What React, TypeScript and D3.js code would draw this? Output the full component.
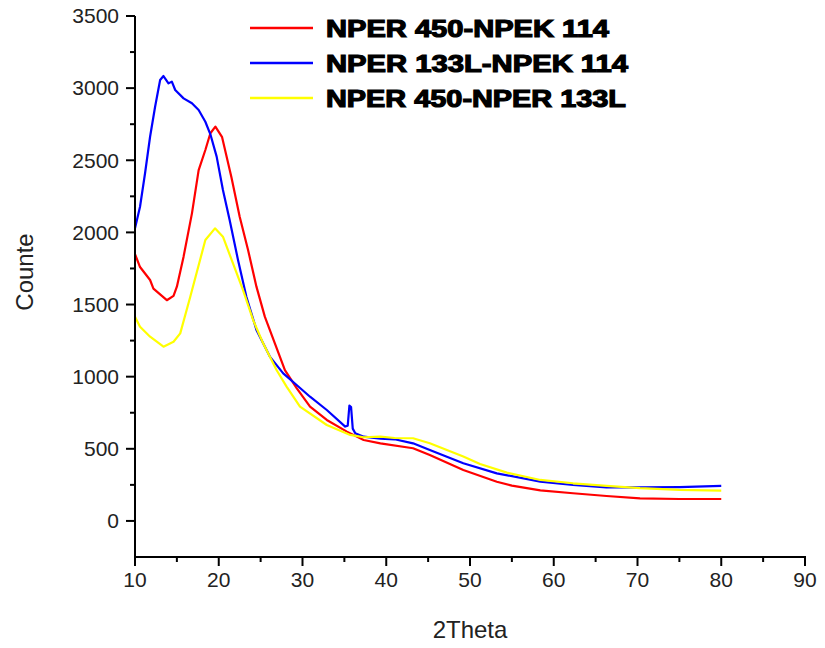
import React from "react";
import * as d3 from "d3";

const redTheta = [10, 10.6, 11.8, 12.2, 13.8, 14.6, 15.0, 15.8, 16.8, 17.6, 18.4, 19.0, 19.6, 20.4, 21.5, 22.5, 23.5, 24.5, 25.5, 26.7, 27.9, 29.3, 30.9, 32.9, 35.3, 37.3, 39.3, 43.2, 45.2, 49.2, 53.2, 55.0, 58.4, 62.3, 66.3, 70.3, 75.0, 80.0];
const redCounts = [1850, 1760, 1670, 1610, 1530, 1560, 1624, 1832, 2132, 2432, 2571, 2687, 2733, 2660, 2386, 2109, 1878, 1624, 1416, 1231, 1046, 920, 792, 700, 619, 561, 538, 504, 457, 353, 272, 245, 212, 192, 173, 157, 152, 152];

const blueTheta = [10, 10.6, 11.2, 11.8, 12.4, 13.0, 13.4, 14.0, 14.4, 14.8, 15.8, 16.8, 17.6, 18.4, 19.0, 19.75, 20.5, 21.3, 22.3, 23.3, 24.5, 26.1, 27.7, 29.3, 30.9, 32.9, 35.1, 35.4, 35.6, 35.8, 36.0, 36.3, 37.3, 39.3, 41.0, 43.2, 45.2, 49.2, 53.2, 58.4, 62.3, 66.3, 70.3, 75.0, 80.0];
const blueCounts = [2028, 2178, 2410, 2663, 2871, 3056, 3084, 3033, 3045, 2987, 2929, 2895, 2848, 2767, 2680, 2525, 2294, 2086, 1809, 1554, 1324, 1139, 1023, 942, 861, 769, 654, 660, 800, 790, 640, 608, 584, 570, 566, 538, 492, 400, 330, 272, 249, 233, 233, 235, 243];

const yellowTheta = [10, 10.6, 11.8, 13.4, 14.6, 15.4, 16.6, 18.4, 19.55, 20.5, 21.7, 22.9, 24.1, 25.3, 26.9, 28.1, 29.7, 32.9, 35.7, 37.3, 39.3, 41.0, 43.2, 45.2, 49.2, 51.2, 54.4, 58.4, 62.3, 66.3, 70.3, 75.0, 80.0];
const yellowCounts = [1416, 1346, 1277, 1208, 1242, 1300, 1554, 1947, 2028, 1970, 1785, 1600, 1393, 1231, 1046, 931, 792, 665, 596, 580, 584, 575, 573, 538, 446, 395, 335, 284, 261, 243, 227, 215, 210];

const seriesNames = ["NPER 450-NPEK 114", "NPER 133L-NPEK 114", "NPER 450-NPER 133L"];
const seriesColors = ["#ff0000", "#0000ff", "#ffff00"];

const xTicks = [10, 20, 30, 40, 50, 60, 70, 80, 90];
const yTicks = [0, 500, 1000, 1500, 2000, 2500, 3000, 3500];

export default function App() {
  const W = 825, H = 648;
  const x = d3.scaleLinear().domain([10, 90]).range([135, 805]);
  const y = d3.scaleLinear().domain([-250, 3500]).range([557, 16]);
  const line = d3.line<[number, number]>().x(d => x(d[0])).y(d => y(d[1]));

  const series = [
    { t: redTheta, c: redCounts },
    { t: blueTheta, c: blueCounts },
    { t: yellowTheta, c: yellowCounts },
  ];

  const xMinor = d3.range(15, 90, 10);
  const yMinorTicks = d3.range(250, 3500, 500);

  const font = "Arial, 'Liberation Sans', sans-serif";
  const legendWidths = [283, 302, 300];

  return (
    <svg width={W} height={H} style={{ position: "absolute", left: 0, top: 0, background: "#fff" }}>
      <rect x={0} y={0} width={W} height={H} fill="#fff" />
      {series.map((s, i) => (
        <path
          key={i}
          d={line(s.t.map((t, j) => [t, s.c[j]] as [number, number])) || ""}
          fill="none"
          stroke={seriesColors[i]}
          strokeWidth={2.2}
          strokeLinejoin="round"
        />
      ))}
      <line x1={x(10)} x2={x(10)} y1={y(3500)} y2={y(-250)} stroke="#000" strokeWidth={2} />
      <line x1={x(10) - 1} x2={x(90) + 1} y1={y(-250)} y2={y(-250)} stroke="#000" strokeWidth={2} />
      {yTicks.map(v => (
        <g key={"yt" + v}>
          <line x1={x(10) - 9} x2={x(10)} y1={y(v)} y2={y(v)} stroke="#000" strokeWidth={2} />
          <text x={x(10) - 16} y={y(v)} dy="0.35em" textAnchor="end" fontFamily={font} fontSize={21} fill="#222">{v}</text>
        </g>
      ))}
      {yMinorTicks.map(v => (
        <line key={"ym" + v} x1={x(10) - 5} x2={x(10)} y1={y(v)} y2={y(v)} stroke="#000" strokeWidth={2} />
      ))}
      {xTicks.map(v => (
        <g key={"xt" + v}>
          <line x1={x(v)} x2={x(v)} y1={y(-250)} y2={y(-250) + 9} stroke="#000" strokeWidth={2} />
          <text x={x(v)} y={y(-250) + 30} textAnchor="middle" fontFamily={font} fontSize={21} fill="#222">{v}</text>
        </g>
      ))}
      {xMinor.map(v => (
        <line key={"xm" + v} x1={x(v)} x2={x(v)} y1={y(-250)} y2={y(-250) + 5} stroke="#000" strokeWidth={2} />
      ))}
      <text x={470} y={638} textAnchor="middle" fontFamily={font} fontSize={24} fill="#222">2Theta</text>
      <text transform="translate(33,272) rotate(-90)" textAnchor="middle" fontFamily={font} fontSize={24} fill="#222">Counte</text>
      {seriesNames.map((n, i) => (
        <g key={"lg" + i}>
          <line x1={250} x2={313} y1={28 + i * 35} y2={28 + i * 35} stroke={seriesColors[i]} strokeWidth={2.5} />
          <text x={326} y={28 + i * 35} dy="0.36em" fontFamily={font} fontWeight="bold" fontSize={24}
            fill="#000" stroke="#000" strokeWidth={1.2} textLength={legendWidths[i]} lengthAdjust="spacingAndGlyphs">{n}</text>
        </g>
      ))}
    </svg>
  );
}
